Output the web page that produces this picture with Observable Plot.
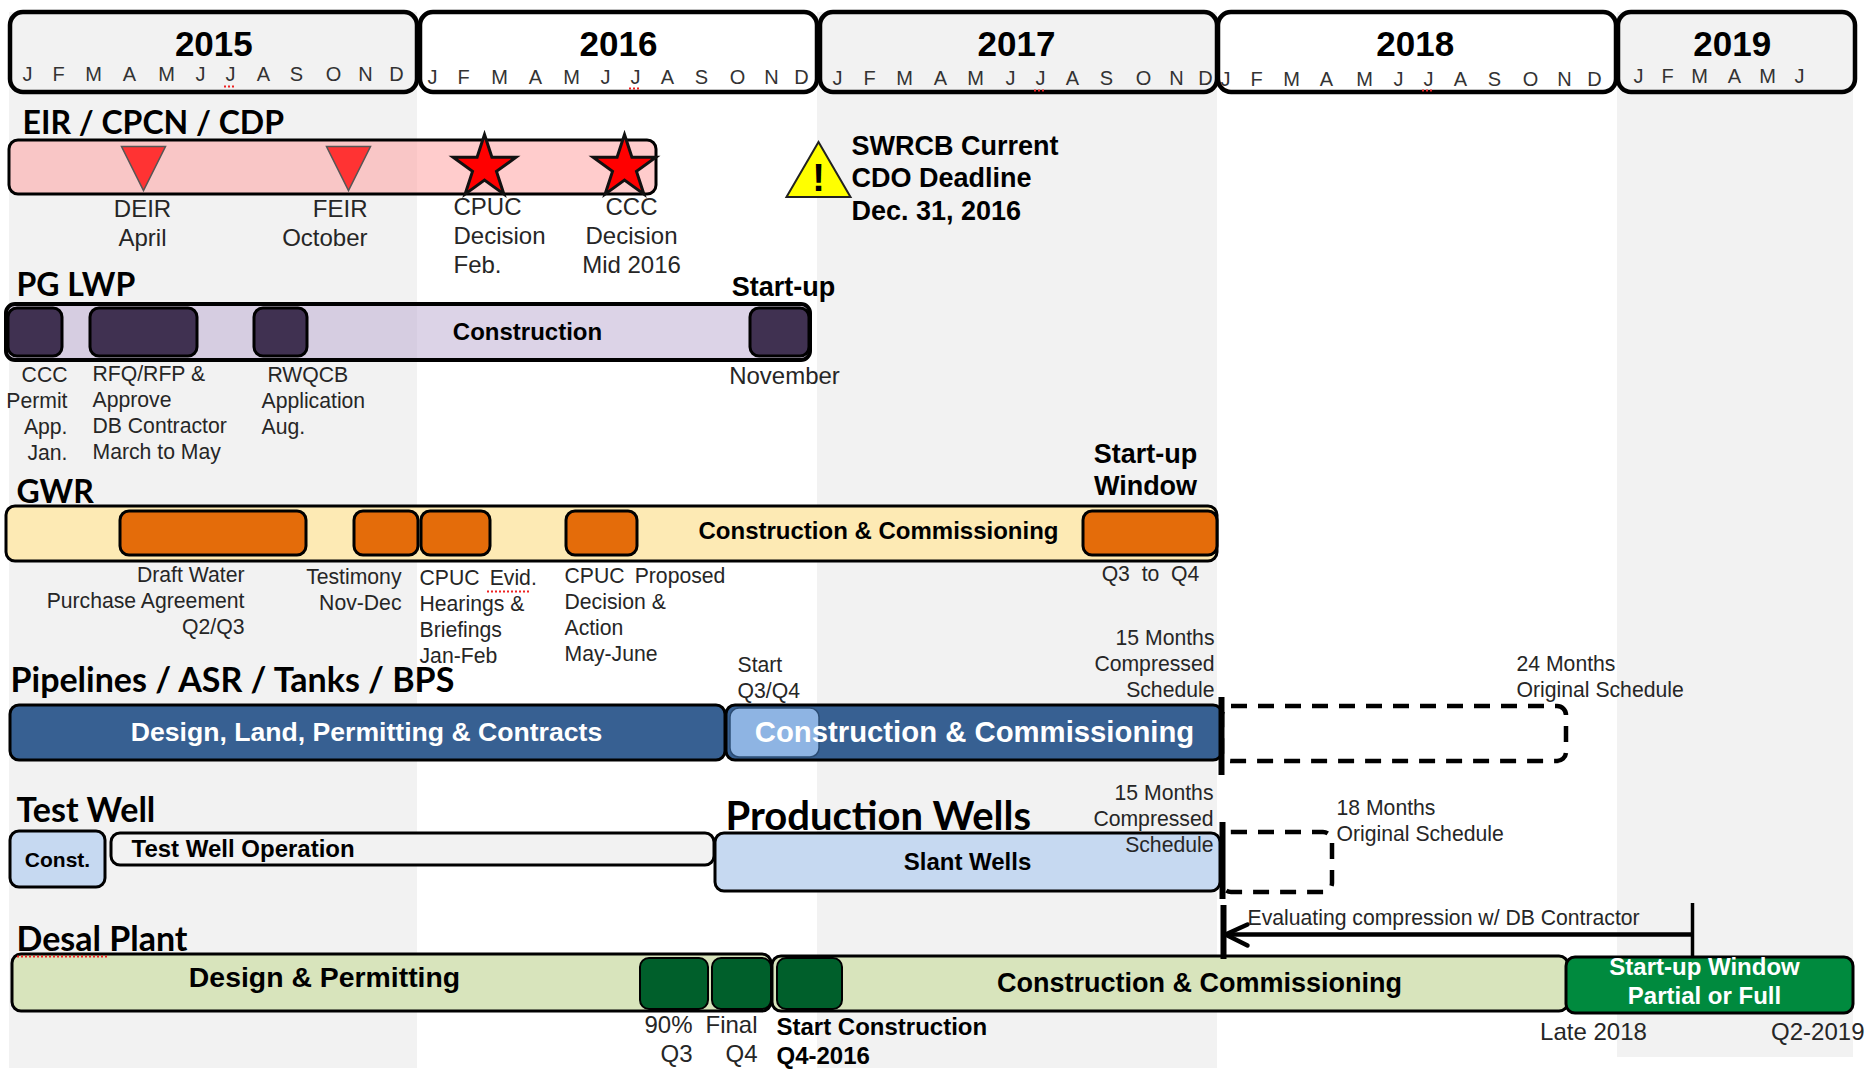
<!DOCTYPE html>
<html>
<head>
<meta charset="utf-8">
<script src="https://cdn.jsdelivr.net/npm/d3@7"></script>
<script src="https://cdn.jsdelivr.net/npm/@observablehq/plot@0.6"></script>
<style>html,body{margin:0;padding:0;background:#fff}svg{display:block}</style>
</head>
<body>
<div id="chart"></div>
<script>
// Time is in months since January 2015.
const years = [2015, 2016, 2017, 2018, 2019];
const yearStart = [-0.21, 12.09, 24.09, 36.03, 48.03];
const yearEnd = [12, 24, 36, 47.97, 55.14];
const yearLabelAt = [5.89, 18.03, 29.97, 41.93, 51.44];
const bandStart = [-0.24, 24, 48];
const bandEnd = [12, 36, 55.08];
const monthLetters = ["J","F","M","A","M","J","J","A","S","O","N","D"];
const monthsByYear = [
  [0.30,1.23,2.28,3.36,4.47,5.49,6.39,7.38,8.37,9.48,10.44,11.37],
  [12.45,13.38,14.46,15.54,16.62,17.64,18.54,19.50,20.52,21.60,22.62,23.52],
  [24.60,25.56,26.61,27.69,28.74,29.79,30.69,31.65,32.67,33.78,34.77,35.64],
  [36.24,37.17,38.22,39.27,40.41,41.43,42.33,43.29,44.31,45.39,46.41,47.31],
  [48.63,49.50,50.46,51.51,52.50,53.46]
];
const eirSpan = [-0.24, 19.17];
const draftMilestones = [3.78, 9.93];
const decisionMilestones = [14.01, 18.21];
const cdoDeadline = [24.03];
const pgSpan = [-0.33, 23.79];
const pgStart = [-0.27, 2.19, 7.11, 21.99];
const pgEnd = [1.35, 5.40, 8.70, 23.76];
const gwrSpan = [-0.33, 36];
const gwrStart = [3.09, 10.11, 12.12, 16.47, 31.98];
const gwrEnd = [8.67, 12.03, 14.19, 18.60, 36];
const pipeDesign = [-0.21, 21.24];
const pipeBuild = [21.27, 36.15];
const pipeStartWindow = [21.39, 24.06];
const pipeOriginal = [36.15, 46.47];
const wellConst = [-0.21, 2.64];
const wellOperation = [2.82, 20.91];
const slantWells = [20.94, 36.09];
const slantOriginal = [36.15, 39.45];
const desalDesign = [-0.15, 22.62];
const desalBuild = [22.65, 46.53];
const desalStart = [18.69, 20.85, 22.80];
const desalEnd = [20.73, 22.62, 24.75];
const desalStartup = [46.47, 55.08];
const compressedEnd = 36.12;
const evaluateFrom = 50.25;
const evaluateTo = 36.24;

// Texts: text, month, sheet row, style
const labels = [
  ["EIR / CPCN / CDP", 0.15, 133, "title"],
  ["PG LWP", -0.03, 295, "title"],
  ["GWR", -0.03, 502, "title"],
  ["Pipelines / ASR / Tanks / BPS", -0.21, 691, "titleLarge"],
  ["Test Well", -0.03, 821, "titleLarge"],
  ["Production Wells", 21.24, 829, "bigTitle"],
  ["Desal Plant", -0.03, 950, "titleLarge"],

  ["DEIR\nApril", 3.75, 196, "noteMid"],
  ["FEIR\nOctober", 10.5, 196, "noteEnd"],
  ["CPUC\nDecision\nFeb.", 13.08, 194, "note"],
  ["CCC\nDecision\nMid 2016", 18.42, 194, "noteMid"],
  ["SWRCB Current\nCDO Deadline\nDec. 31, 2016", 25.02, 132, "boldNote"],
  ["!", 24.03, 158, "bang"],

  ["Start-up", 22.98, 273, "boldWide"],
  ["Construction", 15.3, 319, "boldMid"],
  ["CCC\nPermit\nApp.\nJan.", 1.5, 363, "smallEnd"],
  ["RFQ/RFP &\nApprove\nDB Contractor\nMarch to May", 2.25, 362, "small"],
  ["\u00a0RWQCB\nApplication\nAug.", 7.32, 363, "small"],
  ["November", 23.01, 363, "noteMid"],

  ["Start-up\nWindow", 33.84, 440, "boldWide"],
  ["Construction & Commissioning", 25.83, 518, "boldMid"],
  ["Draft Water\nPurchase Agreement\nQ2/Q3", 6.81, 563, "smallEnd"],
  ["Testimony\nNov-Dec", 11.52, 565, "smallEnd"],
  ["CPUC\u00a0\u2009Evid.\nHearings &\nBriefings\nJan-Feb", 12.06, 566, "small"],
  ["CPUC\u00a0\u2009Proposed\nDecision &\nAction\nMay-June", 16.41, 564, "small"],
  ["Q3\u00a0 to\u00a0 Q4", 33.99, 562, "smallMid"],

  ["Start\nQ3/Q4", 21.6, 653, "small"],
  ["15 Months\nCompressed\nSchedule", 35.91, 626, "smallEnd"],
  ["24 Months\nOriginal Schedule", 44.97, 652, "small"],
  ["Design, Land, Permitting & Contracts", 10.47, 718, "whiteBold"],
  ["Construction & Commissioning", 28.71, 717, "whiteLarge"],

  ["Const.", 1.2, 849, "boldSmall"],
  ["Test Well Operation", 3.42, 836, "boldStart"],
  ["Slant Wells", 28.5, 849, "boldMid"],
  ["15 Months\nCompressed\nSchedule", 35.88, 781, "smallEnd"],
  ["18 Months\nOriginal Schedule", 39.57, 796, "small"],
  ["Evaluating compression w/ DB Contractor", 36.9, 906, "small"],

  ["Design & Permitting", 9.21, 962, "boldLarge"],
  ["Construction & Commissioning", 35.46, 968, "boldBuild"],
  ["Start-up Window\nPartial or Full", 50.61, 954, "whiteBoldTight"],
  ["90%\nQ3", 20.25, 1012, "noteEnd"],
  ["Final\nQ4", 22.2, 1012, "noteEnd"],
  ["Start Construction\nQ4-2016", 22.77, 1014, "boldStart"],
  ["Late 2018", 47.28, 1019, "noteMid"],
  ["Q2-2019", 55.41, 1019, "noteEnd"]
];

// ---- Layout and styling (sheet rows, colours, fonts) ----
const arial = "'Liberation Sans', Arial, sans-serif";
const textStyles = {
  title: {font:"Lato", size:32, weight:700, anchor:"start", line:"bottom"},
  titleLarge: {font:"Lato", size:34, weight:700, anchor:"start", line:"bottom"},
  bigTitle: {font:"Lato", size:40, weight:700, anchor:"start", line:"bottom"},
  note: {size:24, anchor:"start", lh:1.21},
  noteMid: {size:24, anchor:"middle", lh:1.21},
  noteEnd: {size:24, anchor:"end", lh:1.21},
  small: {size:21.2, anchor:"start", lh:1.23},
  smallMid: {size:21.2, anchor:"middle", lh:1.23},
  smallEnd: {size:21.2, anchor:"end", lh:1.23},
  boldNote: {size:27, weight:700, anchor:"start", lh:1.19},
  bang: {size:38, weight:700, anchor:"middle", fill:"#000"},
  boldMid: {size:24, weight:700, anchor:"middle"},
  boldStart: {size:24, weight:700, anchor:"start", lh:1.2},
  boldWide: {size:27, weight:700, anchor:"middle", lh:1.19},
  boldLarge: {size:28.4, weight:700, anchor:"middle"},
  boldBuild: {size:27, weight:700, anchor:"middle"},
  boldSmall: {size:21, weight:700, anchor:"middle"},
  whiteBold: {size:26.6, weight:700, anchor:"middle", fill:"#fff"},
  whiteLarge: {size:29.3, weight:700, anchor:"middle", fill:"#fff"},
  whiteBoldTight: {size:24, weight:700, anchor:"middle", fill:"#fff", lh:1.2}
};
const headerRow = [12, 92];
const monthRows = [74, 77, 78, 79, 76];
const rows = {
  eir:[140,194], pg:[304,360], pgIn:[308,356], gwr:[506,561], gwrIn:[511,555],
  pipe:[705,760], pipeIn:[708,757], constWell:[831,887], op:[833,865], slant:[833,891],
  slantDash:[832,892], pipeDash:[706,761], design:[954,1011], build:[956,1011],
  desalIn:[958,1009], startup:[957,1013]
};

function box(span, row, fill, opts = {}) {
  return Plot.rect([0], {x1:span[0], x2:span[1], y1:row[0], y2:row[1], fill,
    stroke:"#000", strokeWidth:3, rx:9, ry:9, ...opts});
}
function boxes(starts, ends, row, fill, opts = {}) {
  return starts.map((s, i) => box([s, ends[i]], row, fill, opts));
}
function makeSymbol(points) {
  return {draw(ctx, size) {
    const r = Math.sqrt(size / Math.PI);
    points.forEach(([a, b], i) => i ? ctx.lineTo(a * r, b * r) : ctx.moveTo(a * r, b * r));
    ctx.closePath();
  }};
}
const triDown = makeSymbol([[-1,-1],[1,-1],[0,1]]);
const triUp = makeSymbol([[-1,0.86],[1,0.86],[0,-0.86]]);
const star = makeSymbol(d3.range(10).map(i => {
  const r = i % 2 ? 0.382 : 1, a = i * Math.PI / 5;
  return [r * Math.sin(a), -r * Math.cos(a)];
}));
const squiggles = [
  [6.21, 6.57, 86], [18.36, 18.72, 88], [30.51, 30.87, 90], [42.15, 42.51, 90],
  [14.1, 15.36, 591], [0, 2.7, 956]
];

const marks = [
  Plot.rect(bandStart.map((s, i) => ({s, e: bandEnd[i]})), {x1:"s", x2:"e", y1:12,
    y2:(d, i) => i === 2 ? 1057 : 1068, fill:"#f2f2f2"}),
  ...years.map((y, i) => box([yearStart[i], yearEnd[i]], headerRow, "none",
    {strokeWidth:4.5, rx:13, ry:13})),
  Plot.text(years, {
    x:(d, i) => yearLabelAt[i], y:44, text:d => String(d),
    fontFamily:arial, fontSize:35, fontWeight:700, fill:"#000", lineAnchor:"middle"
  }),
  ...monthsByYear.map((positions, i) => Plot.text(positions, {
    x:d => d, y:monthRows[i], text:(d, j) => monthLetters[j],
    fontFamily:arial, fontSize:20, fill:"#333", lineAnchor:"middle"
  })),

  box(eirSpan, rows.eir, "#ff9999", {fillOpacity:0.5}),
  Plot.dot(draftMilestones, {x:d => d, y:168, r:22, symbol:triDown, fill:"#ff3333", stroke:"#555", strokeWidth:1.5}),
  Plot.dot(decisionMilestones, {x:d => d, y:167, r:33, symbol:star, fill:"#ff0000", stroke:"#111", strokeWidth:3}),
  Plot.dot(cdoDeadline, {x:d => d, y:169, r:32, symbol:triUp, fill:"#ffff00", stroke:"#222", strokeWidth:2}),

  box(pgSpan, rows.pg, "#b9a7cf", {fillOpacity:0.5, strokeWidth:4}),
  ...boxes(pgStart, pgEnd, rows.pgIn, "#403151"),

  box(gwrSpan, rows.gwr, "#fde9b0", {fillOpacity:0.95}),
  ...boxes(gwrStart, gwrEnd, rows.gwrIn, "#e46c0a"),

  box(pipeOriginal, rows.pipeDash, "none", {strokeWidth:4.5, strokeDasharray:"16 11"}),
  box(pipeDesign, rows.pipe, "#376092"),
  box(pipeBuild, rows.pipe, "#376092"),
  box(pipeStartWindow, rows.pipeIn, "#8eb4e3", {stroke:"#2c4d75", strokeWidth:1.5}),

  box(wellConst, rows.constWell, "#c6d9f1"),
  box(wellOperation, rows.op, "#f2f2f2"),
  box(slantOriginal, rows.slantDash, "none", {strokeWidth:4.5, strokeDasharray:"16 11"}),
  box(slantWells, rows.slant, "#c6d9f1"),

  box(desalDesign, rows.design, "#d8e4bc"),
  box(desalBuild, rows.build, "#d8e4bc"),
  ...boxes(desalStart, desalEnd, rows.desalIn, "#005f2b", {strokeWidth:2}),
  box(desalStartup, rows.startup, "#008a3e"),

  Plot.ruleX([compressedEnd], {y1:697, y2:775, stroke:"#000", strokeWidth:6}),
  Plot.ruleX([compressedEnd + 0.03], {y1:822, y2:899, stroke:"#000", strokeWidth:6}),
  Plot.ruleX([compressedEnd + 0.06], {y1:905, y2:959, stroke:"#000", strokeWidth:6}),
  Plot.ruleX([evaluateFrom], {y1:903, y2:957, stroke:"#000", strokeWidth:3.5}),
  Plot.ruleY([934], {x1:evaluateTo, x2:evaluateFrom, stroke:"#000", strokeWidth:4.5}),
  Plot.line([[36.9, 924], [evaluateTo, 934], [36.9, 945]], {x:d => d[0], y:d => d[1], stroke:"#000", strokeWidth:4.5}),
  Plot.ruleY(squiggles, {x1:d => d[0], x2:d => d[1], y:d => d[2], stroke:"#e22", strokeWidth:2, strokeDasharray:"2 2"}),

  ...labels.map(([text, x, y, key]) => {
    const s = textStyles[key];
    return Plot.text([text], {
      x:() => x, y:() => y, text:d => d,
      fontFamily:s.font || arial, fontSize:s.size, fontWeight:s.weight || 400,
      textAnchor:s.anchor, lineAnchor:s.line || "top", lineHeight:s.lh || 1.2,
      fill:s.fill || (s.weight ? "#000" : "#262626")
    });
  })
];

const chart = Plot.plot({
  width:1872, height:1069, margin:0,
  x:{domain:[-0.51, 55.65], range:[0, 1872], axis:null},
  y:{domain:[0, 1069], range:[0, 1069], axis:null},
  style:{background:"#fff", overflow:"visible"},
  marks
});
document.getElementById("chart").appendChild(chart);
</script>
</body>
</html>
